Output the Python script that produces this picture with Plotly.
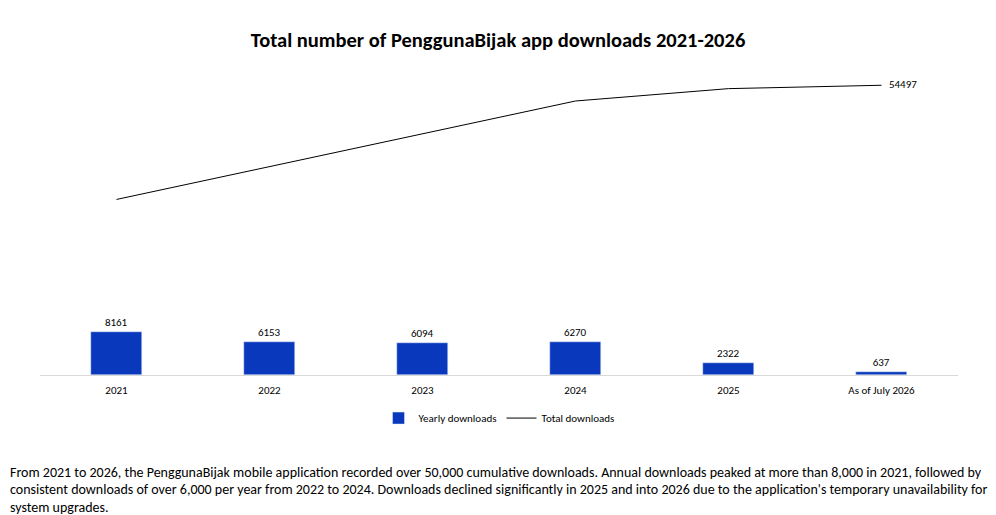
import plotly.graph_objects as go

categories = ["2021", "2022", "2023", "2024", "2025", "As of July 2026"]
yearly = [8161, 6153, 6094, 6270, 2322, 637]
total = [33021, 39174, 45268, 51538, 53860, 54497]

FONT = "Carlito, Lato, 'Open Sans', sans-serif"

fig = go.Figure()
fig.add_trace(go.Bar(
    x=categories, y=yearly, name="Yearly downloads",
    marker=dict(color="#0a38bd"), width=0.333,
    text=[str(v) for v in yearly], textposition="outside",
    textfont=dict(size=11, color="#000000"), cliponaxis=False,
))
fig.add_trace(go.Scatter(
    x=categories, y=total, name="Total downloads", mode="lines+text",
    line=dict(color="#000000", width=1),
    text=[""] * (len(total) - 1) + ["   " + str(total[-1])],
    textposition="middle right", textfont=dict(size=11, color="#000000"),
    cliponaxis=False,
))

caption_lines = [
    "From 2021 to 2026, the PenggunaBijak mobile application recorded over 50,000 cumulative downloads. "
    "Annual downloads peaked at more than 8,000 in 2021, followed by",
    "consistent downloads of over 6,000 per year from 2022 to 2024. Downloads declined significantly in 2025 "
    "and into 2026 due to the application's temporary unavailability for",
    "system upgrades.",
]

fig.update_layout(
    width=996, height=515,
    margin=dict(l=32, r=46, t=48, b=148, autoexpand=False),
    paper_bgcolor="white", plot_bgcolor="white",
    font=dict(family=FONT, color="#000000"),
    title=dict(text="<b>Total number of PenggunaBijak app downloads 2021-2026</b>",
               x=0.492, xanchor="center", y=0.938, yanchor="middle",
               font=dict(size=20.5, family=FONT, color="#000000")),
    xaxis=dict(showline=True, linecolor="#d9d9d9", linewidth=1, ticks="",
               tickfont=dict(size=11), showgrid=False, ticklabelstandoff=5),
    yaxis=dict(range=[0, 60000], visible=False, showgrid=False, zeroline=False),
    legend=dict(orientation="h", x=0.5, xanchor="center", y=-0.135, yanchor="middle",
                font=dict(size=11), itemwidth=30),
    showlegend=True,
    bargap=0,
)
for i, line in enumerate(caption_lines):
    fig.add_annotation(text=line, xref="paper", yref="paper", x=-0.035, y=-0.307 - 0.0535 * i,
                       xanchor="left", yanchor="middle", align="left", showarrow=False,
                       font=dict(size=14, family=FONT, color="#000000"))

fig.write_html("out.html")
